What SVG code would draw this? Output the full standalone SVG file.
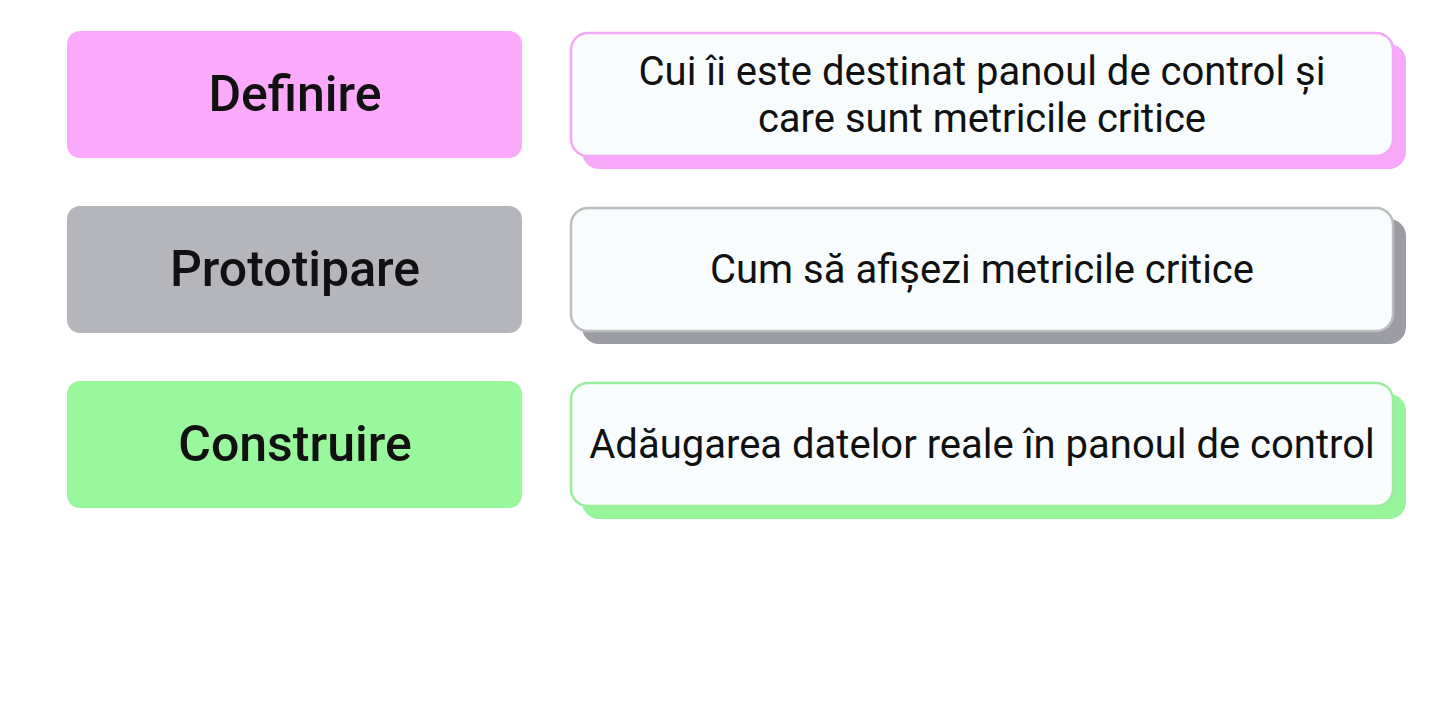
<svg xmlns="http://www.w3.org/2000/svg" width="1446" height="720" viewBox="0 0 1446 720">
<style>
.lbl{font-family:Roboto,"Liberation Sans",sans-serif;font-weight:500;font-size:50px;fill:#111;text-anchor:middle}
.txt{font-family:Roboto,"Liberation Sans",sans-serif;font-size:40px;fill:#111;text-anchor:middle}
.card{fill:#F8FCFD;stroke-width:2.5}
</style>
<rect width="1446" height="720" fill="#FFFFFF"/>
<g id="definire">
<rect x="67" y="31" width="455" height="127" rx="13" fill="#FBAAFB"/>
<text class="lbl" x="295" y="111">Definire</text>
</g>
<g id="definire-desc">
<rect x="582" y="44" width="824" height="125" rx="17" fill="#F8A8F8"/>
<rect class="card" x="571" y="33" width="822" height="123" rx="17" stroke="#F2A8F2"/>
<text class="txt" x="982" y="85">Cui îi este destinat panoul de control și</text>
<text class="txt" x="982" y="132">care sunt metricile critice</text>
</g>
<g id="prototipare">
<rect x="67" y="206" width="455" height="127" rx="13" fill="#B5B6BB"/>
<text class="lbl" x="295" y="286">Prototipare</text>
</g>
<g id="prototipare-desc">
<rect x="582" y="219" width="824" height="125" rx="17" fill="#9C9DA4"/>
<rect class="card" x="571" y="208" width="822" height="123" rx="17" stroke="#BDBDBF"/>
<text class="txt" x="982" y="283">Cum să afișezi metricile critice</text>
</g>
<g id="construire">
<rect x="67" y="381" width="455" height="127" rx="13" fill="#98F89B"/>
<text class="lbl" x="295" y="461">Construire</text>
</g>
<g id="construire-desc">
<rect x="582" y="394" width="824" height="125" rx="17" fill="#96F49A"/>
<rect class="card" x="571" y="383" width="822" height="123" rx="17" stroke="#9CEE9F"/>
<text class="txt" x="982" y="458">Adăugarea datelor reale în panoul de control</text>
</g>
<g id="connectors"></g>
</svg>
